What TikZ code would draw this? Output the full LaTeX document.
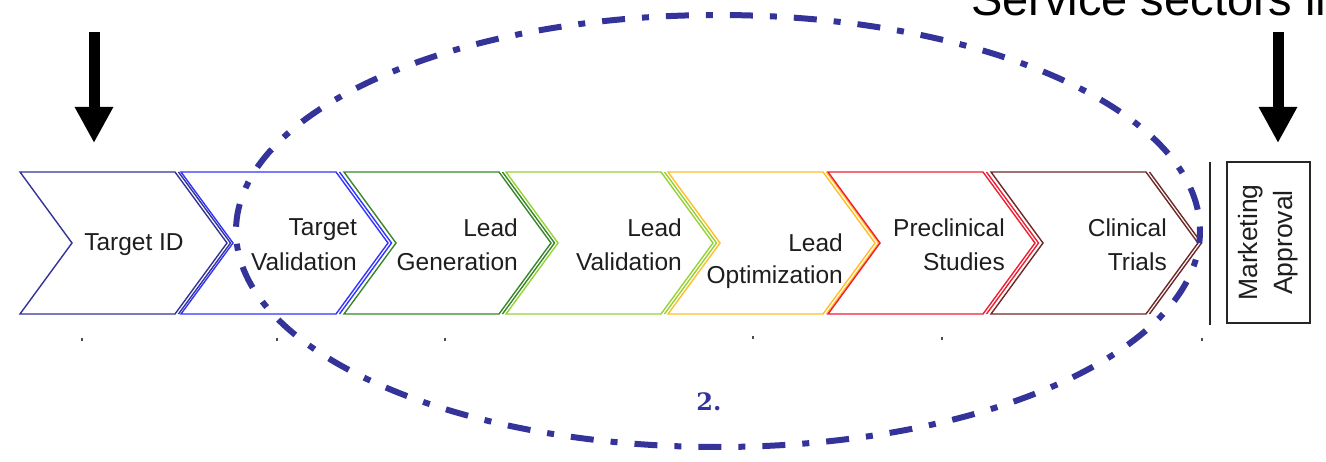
\documentclass[tikz,border=0pt]{standalone}
\usepackage{fontspec}
\setmainfont{Liberation Sans}
\newfontfamily\numfont{DejaVu Serif}
\usetikzlibrary{arrows.meta}
\definecolor{c1}{RGB}{51,51,153}
\definecolor{c2}{RGB}{51,51,255}
\definecolor{c3}{RGB}{55,135,40}
\definecolor{c4}{RGB}{150,210,50}
\definecolor{c5}{RGB}{255,190,40}
\definecolor{c6}{RGB}{240,30,50}
\definecolor{c7}{RGB}{110,40,40}
\definecolor{ellcol}{RGB}{51,51,153}
\definecolor{txtcol}{RGB}{30,30,30}
\tikzset{
  chevline/.style={line width=1.4pt, line join=miter},
  chevtext/.style={inner sep=0pt, align=right, anchor=east, text=txtcol,
    font=\fontsize{24.5}{34.5}\selectfont},
  bigarrow/.style={line width=11pt, -{Triangle[width=36pt,length=36pt]}},
  tickmark/.style={fill=black!70, draw=none, minimum width=1.5pt, minimum height=3pt, inner sep=0pt},
}
\begin{document}
\begin{tikzpicture}[x=1pt,y=-1pt]
\useasboundingbox (0,0) rectangle (1326,462);
\clip (0,0) rectangle (1326,462);

% chevrons
\foreach \L/\c/\n in {20/c1/1,181/c2/2,344/c3/3,506/c4/4,668/c5/5,828/c6/6,991/c7/7}{
  \coordinate (ch\n-tl) at (\L,172);
  \coordinate (ch\n-bl) at (\L,314);
  \coordinate (ch\n-nt) at (\L+52,243);
  \coordinate (ch\n-tr) at (\L+155,172);
  \coordinate (ch\n-pt) at (\L+207,243);
  \coordinate (ch\n-br) at (\L+155,314);
  \draw[chevline, draw=\c] (ch\n-tl) -- (ch\n-tr) -- (ch\n-pt) -- (ch\n-br) -- (ch\n-bl) -- (ch\n-nt) -- cycle;
  \draw[chevline, draw=\c] ([xshift=3.5pt]ch\n-tr) -- ([xshift=3.5pt]ch\n-pt) -- ([xshift=3.5pt]ch\n-br);
}

\node[chevtext, anchor=center] (t1) at (134,245) {Target ID};
\node[chevtext] (t2) at (357,244.5) {Target\\Validation};
\node[chevtext] (t3) at (518,244.5) {Lead\\Generation};
\node[chevtext] (t4) at (682,244.5) {Lead\\Validation};
\node[chevtext, font=\fontsize{24.5}{32.5}\selectfont] (t5) at (843,261) {Lead\\Optimization};
\node[chevtext] (t6) at (1005,244.5) {Preclinical\\Studies};
\node[chevtext] (t7) at (1167,244.5) {Clinical\\Trials};

% separator and marketing approval box
\coordinate (sepT) at (1210,162);
\coordinate (sepB) at (1210,325);
\draw[line width=1.5pt, black!85] (sepT) -- (sepB);
\node[draw=black!85, line width=1.8pt, rotate=90, minimum width=161pt, minimum height=83pt,
  inner sep=0pt, align=center, text=txtcol, font=\fontsize{26.5}{35}\selectfont]
  (mkt) at (1268.5,242.5) {Marketing\\Approval};

% arrows
\coordinate (a1s) at (94,32);
\coordinate (a1e) at (94,143);
\coordinate (a2s) at (1278,32);
\coordinate (a2e) at (1278,143);
\draw[bigarrow] (a1s) -- (a1e);
\draw[bigarrow] (a2s) -- (a2e);

% top text (cut off by the picture's edge, as in the original)
\node[anchor=base west, inner sep=0pt, font=\fontsize{47}{50}\selectfont] (svc) at (971,16) {Service sectors in};

% ellipse
\draw[ellcol, line width=6pt, dash pattern=on 23pt off 17pt on 7pt off 17pt, dash phase=11pt]
  (718,231) ellipse [x radius=482, y radius=216];
\node[text=ellcol, inner sep=0pt, font=\numfont\bfseries\fontsize{24}{28}\selectfont] (two) at (709,402) {2.};

% tiny tick marks
\foreach \x/\y [count=\i] in {82/340,277/340,445/340,753/338,942/339,1202/340}{
  \node[tickmark] (tk\i) at (\x,\y) {};
}
\end{tikzpicture}
\end{document}
